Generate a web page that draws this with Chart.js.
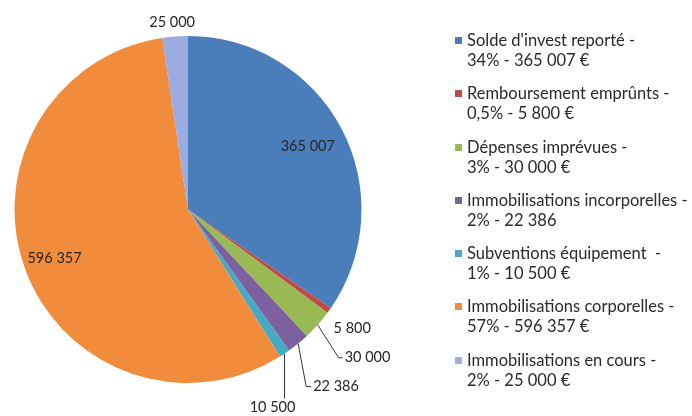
<!DOCTYPE html>
<html>
<head>
<meta charset="utf-8">
<script src="https://cdn.jsdelivr.net/npm/chart.js@4.4.1/dist/chart.umd.min.js"></script>
<style>
  html, body { margin: 0; padding: 0; background: #fff; }
  #wrap { position: relative; width: 692px; height: 416px; }
  #legend { position: absolute; left: 455px; top: 30px; font-family: Lato, sans-serif; font-size: 16.5px; color: #2a2a2a; white-space: pre; }
  .item { position: relative; height: 53.3px; padding-left: 12px; line-height: 20px; }
  .box { position: absolute; left: 0; top: 7px; width: 7px; height: 7px; }
</style>
</head>
<body>
<div id="wrap">
  <canvas id="chart" width="692" height="416"></canvas>
  <div id="legend"></div>
</div>
<script>
const categories = [
    "Solde d'invest reporté",
    "Remboursement emprûnts",
    "Dépenses imprévues",
    "Immobilisations incorporelles",
    "Subventions équipement ",
    "Immobilisations corporelles",
    "Immobilisations en cours"
];
const amounts = [365007, 5800, 30000, 22386, 10500, 596357, 25000];
const percents = ["34%", "0,5%", "3%", "2%", "1%", "57%", "2%"];
const amountLabels = ["365 007", "5 800", "30 000", "22 386", "10 500", "596 357", "25 000"];
const legendSuffix = ["365 007 €", "5 800 €", "30 000 €", "22 386", "10 500 €", "596 357 €", "25 000 €"];

const colors = ["#4A7EBB", "#BE4B48", "#98B954", "#7D60A0", "#46AAC5", "#F18C3C", "#9AACE0"];

// where each data label goes (relative to the slice)
const labelLayout = [
    { mode: "inside", r: 0.78 },
    { mode: "outside", dx: 23, dy: 18 },
    { mode: "leader", line: [[21, 33], [25, 33]], dx: 27, dy: 33, align: "left" },
    { mode: "leader", line: [[8, 43], [13, 43]], dx: 15, dy: 43, align: "left" },
    { mode: "leader", line: [[0, 45]], dx: -12, dy: 54, align: "center" },
    { mode: "inside", r: 0.82 },
    { mode: "outside", dx: -3, dy: -14 }
];

// legend in html
const legendEl = document.getElementById("legend");
categories.forEach((name, i) => {
    const div = document.createElement("div");
    div.className = "item";
    div.innerHTML = `<span class="box" style="background:${colors[i]}"></span>${name} -<br>${percents[i]} - ${legendSuffix[i]}`;
    legendEl.appendChild(div);
});

const dataLabels = {
    id: "dataLabels",
    afterDatasetsDraw(chart) {
        const ctx = chart.ctx;
        const arcs = chart.getDatasetMeta(0).data;
        ctx.save();
        ctx.font = "14.5px Lato, sans-serif";
        ctx.fillStyle = "#262626";
        ctx.strokeStyle = "#333";
        ctx.lineWidth = 1;
        ctx.textBaseline = "middle";
        arcs.forEach((arc, i) => {
            const mid = (arc.startAngle + arc.endAngle) / 2;
            const lay = labelLayout[i];
            if (lay.mode === "inside") {
                const r = arc.outerRadius * lay.r;
                ctx.textAlign = "center";
                ctx.fillText(amountLabels[i], arc.x + Math.cos(mid) * r, arc.y + Math.sin(mid) * r);
                return;
            }
            const ex = arc.x + Math.cos(mid) * arc.outerRadius;
            const ey = arc.y + Math.sin(mid) * arc.outerRadius;
            if (lay.mode === "leader") {
                ctx.beginPath();
                ctx.moveTo(ex, ey);
                lay.line.forEach(p => ctx.lineTo(ex + p[0], ey + p[1]));
                ctx.stroke();
            }
            ctx.textAlign = lay.align || "center";
            ctx.fillText(amountLabels[i], ex + lay.dx, ey + lay.dy);
        });
        ctx.restore();
    }
};

const chartEl = document.getElementById("chart").getContext("2d");
// eslint-disable-next-line no-unused-vars
let chart = new Chart(chartEl, {
    type: "pie",
    data: {
        labels: categories,
        datasets: [
            {
                data: amounts,
                backgroundColor: colors,
                borderWidth: 0
            }
        ]
    },
    options: {
        responsive: false,
        animation: false,
        layout: { padding: { left: 14, right: 330, top: 36, bottom: 33 } },
        plugins: {
            legend: { display: false },
            tooltip: { enabled: false }
        }
    },
    plugins: [dataLabels]
});
</script>
</body>
</html>
